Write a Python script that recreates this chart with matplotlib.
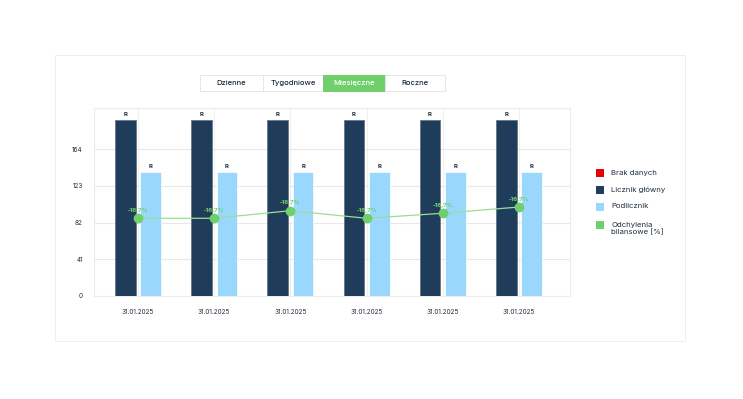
import matplotlib.pyplot as plt
from matplotlib.patches import Rectangle, FancyBboxPatch

plt.rcParams['font.family'] = ['Inter', 'DejaVu Sans']

# data
dates = ['31.01.2025'] * 6
main_meter = [196.6, 196.6, 196.6, 196.6, 196.6, 196.6]
sub_meter = [138.5, 138.5, 138.5, 138.5, 138.5, 138.5]
deviation = [86.8, 86.8, 95.3, 86.8, 92.4, 99.4]
deviation_labels = ['-16,7%'] * 6
y_ticks = [0, 41, 82, 123, 164]
tabs = ['Dzienne', 'Tygodniowe', 'Miesięczne', 'Roczne']
active_tab = 'Miesięczne'
legend_items = ['Brak danych', 'Licznik główny', 'Podlicznik', 'Odchylenia\nbilansowe [%]']

dark = '#1f3d5a'
light = '#99d8fc'
green = '#6fcf6a'
red = '#e5040b'

W, H = 743, 399
fig = plt.figure(figsize=(W / 100, H / 100), dpi=100, facecolor='white')

def fx(px):
    return px / W

def fy(py):
    return 1 - py / H

# card with soft wide shadow
for d in range(48, 0, -2):
    fig.patches.append(FancyBboxPatch((fx(55 - d * 0.6), fy(341 + d * 0.8)), fx(630 + d * 1.2),
                                      (286 + d * 1.4) / H,
                                      boxstyle='round,pad=0,rounding_size=%f' % (1.5 * d / W),
                                      transform=fig.transFigure, facecolor='black', alpha=0.0018,
                                      edgecolor='none', zorder=0))
fig.patches.append(Rectangle((fx(55), fy(341)), fx(630), 286 / H, transform=fig.transFigure,
                             facecolor='white', edgecolor='#ebebeb', linewidth=0.6, zorder=1))

# tabs
tab_edges = [200, 263, 323, 385, 445]
for i, t in enumerate(tabs):
    x0, x1 = tab_edges[i], tab_edges[i + 1]
    on = t == active_tab
    fig.patches.append(Rectangle((fx(x0), fy(91)), fx(x1 - x0), 16 / H, transform=fig.transFigure,
                                 facecolor=green if on else 'white',
                                 edgecolor=green if on else '#e6e6e6', linewidth=0.7, zorder=2))
    fig.text(fx((x0 + x1) / 2), fy(83), t, ha='center', va='center', fontsize=5.5,
             color='white' if on else '#1f2d3d', fontweight='medium', zorder=3)

ax = fig.add_axes([fx(94), fy(296), fx(570 - 94), (296 - 108) / H])
ax.set_zorder(5)
ax.patch.set_alpha(0)

x = list(range(len(dates)))
bw = 0.27
off = 0.167
ax.bar([i - off for i in x], main_meter, width=bw, color=dark, edgecolor='#5d6f80',
       linewidth=0.5, zorder=3)
ax.bar([i + off for i in x], sub_meter, width=bw, color=light, edgecolor='white',
       linewidth=0.5, zorder=3)
for i in x:
    ax.text(i - off, main_meter[i] + 3, 'R', ha='center', va='bottom', fontsize=4.3,
            color='#1f2d3d', fontweight='bold')
    ax.text(i + off, sub_meter[i] + 3, 'R', ha='center', va='bottom', fontsize=4.3,
            color='#1f2d3d', fontweight='bold')

ax.plot(x, deviation, color='#9ade96', linewidth=0.9, marker='o', markersize=6,
        markerfacecolor=green, markeredgecolor=green, zorder=4)
for i in x:
    ax.text(i, deviation[i] + 6, deviation_labels[i], ha='center', va='bottom', fontsize=4.3,
            color=green, fontweight='bold', zorder=5)

ax.set_ylim(0, 210)
ax.set_xlim(-0.577, 5.67)
ax.set_yticks(y_ticks)
ax.set_yticklabels([str(v) for v in y_ticks])
ax.set_xticks(x)
ax.set_xticklabels(dates)
ax.tick_params(length=0, labelsize=4.6, colors='#1f2d3d', pad=8)
ax.tick_params(axis='x', pad=9)
ax.grid(True, axis='y', color='#e8e8e8', linewidth=0.8, zorder=0)
ax.grid(True, axis='x', color='#f0f0f0', linewidth=0.8, zorder=0)
for s in ['left', 'top', 'right', 'bottom']:
    ax.spines[s].set_color('#ececec')
    ax.spines[s].set_linewidth(0.8)

# legend
legend_colors = [red, dark, light, green]
legend_y = [173, 190, 207, 225]
for c, lab, yy in zip(legend_colors, legend_items, legend_y):
    fig.patches.append(Rectangle((fx(596), fy(yy + 4)), fx(8), 8 / H, transform=fig.transFigure,
                                 facecolor=c, edgecolor='none', zorder=6))
    fig.text(fx(611), fy(yy - 3.5), lab, ha='left', va='top', fontsize=5.6, color='#1f2d3d',
             linespacing=1.2, zorder=6)

fig.savefig('out.png', dpi=100, facecolor=fig.get_facecolor())
